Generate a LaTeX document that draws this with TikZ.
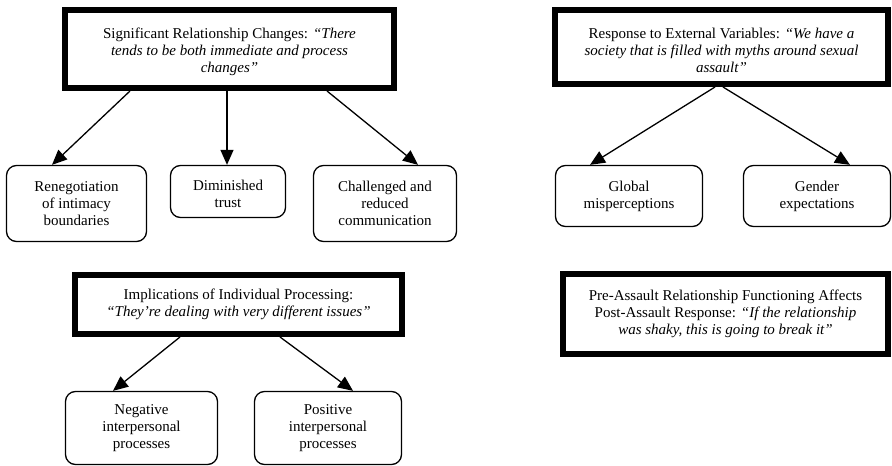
\documentclass[tikz,border=0pt]{standalone}
\usepackage{fontspec}
\setmainfont{Liberation Serif}
\usetikzlibrary{arrows.meta}
\begin{document}
\begin{tikzpicture}[x=1pt,y=-1pt,
  txt/.style={font=\fontsize{15}{17}\selectfont, align=center, inner sep=0pt},
  theme/.style={txt, draw=black, line width=6pt, rectangle},
  sub/.style={txt, draw=black, line width=1.3pt, rounded corners=10pt, rectangle},
  arr/.style={line width=1.3pt, -{Triangle[length=15pt,width=13pt]}}]
\useasboundingbox (0,0) rectangle (892,466);
% themes
\node[theme, minimum width=329pt, minimum height=78pt] (b1) at (229.5,49) {};
\node[txt] (b1t) at (229.5,52)
  {Significant Relationship Changes: \textit{“There}\\ \textit{tends to be both immediate and process}\\ \textit{changes”}};
\node[theme, minimum width=333pt, minimum height=74pt] (b2) at (721.5,47) {};
\node[txt] (b2t) at (721.5,50)
  {Response to External Variables: \textit{“We have a}\\ \textit{society that is filled with myths around sexual}\\ \textit{assault”}};
\node[theme, minimum width=327pt, minimum height=59pt] (b3) at (238.5,304.5)
  {Implications of Individual Processing:\\ \textit{“They’re dealing with very different issues”}};
\node[theme, minimum width=325pt, minimum height=80pt] (b4) at (725.5,314)
  {Pre-Assault Relationship Functioning Affects\\ Post-Assault Response: \textit{“If the relationship}\\ \textit{was shaky, this is going to break it”}};
% subthemes
\node[sub, minimum width=140pt, minimum height=76pt] (c1) at (76.5,203.5) {Renegotiation\\ of intimacy\\ boundaries};
\node[sub, minimum width=115pt, minimum height=52pt] (c2) at (228,191.5) {};
\node[txt] (c2t) at (228,194) {Diminished\\ trust};
\node[sub, minimum width=143pt, minimum height=76pt] (c3) at (385,203.5) {Challenged and\\ reduced\\ communication};
\node[sub, minimum width=147pt, minimum height=61pt] (d1) at (629,196) {Global\\ misperceptions};
\node[sub, minimum width=147pt, minimum height=61pt] (d2) at (817,196) {Gender\\ expectations};
\node[sub, minimum width=152pt, minimum height=73pt] (e1) at (141.5,428) {Negative\\ interpersonal\\ processes};
\node[sub, minimum width=147pt, minimum height=73pt] (e2) at (328,428) {Positive\\ interpersonal\\ processes};
% arrows
\draw[arr] ([xshift=-99.5pt]b1.south) -- ([xshift=-24.5pt]c1.north);
\draw[arr] ([xshift=-2.5pt]b1.south) -- ([xshift=-1pt]c2.north);
\draw[arr] ([xshift=97.5pt]b1.south) -- ([xshift=33pt]c3.north);
\draw[arr] ([xshift=-6.5pt]b2.south) -- ([xshift=-39pt]d1.north);
\draw[arr] ([xshift=1.5pt]b2.south) -- ([xshift=33pt]d2.north);
\draw[arr] ([xshift=-58.5pt]b3.south) -- ([xshift=-28.5pt]e1.north);
\draw[arr] ([xshift=41.5pt]b3.south) -- ([xshift=25pt]e2.north);
\end{tikzpicture}
\end{document}
